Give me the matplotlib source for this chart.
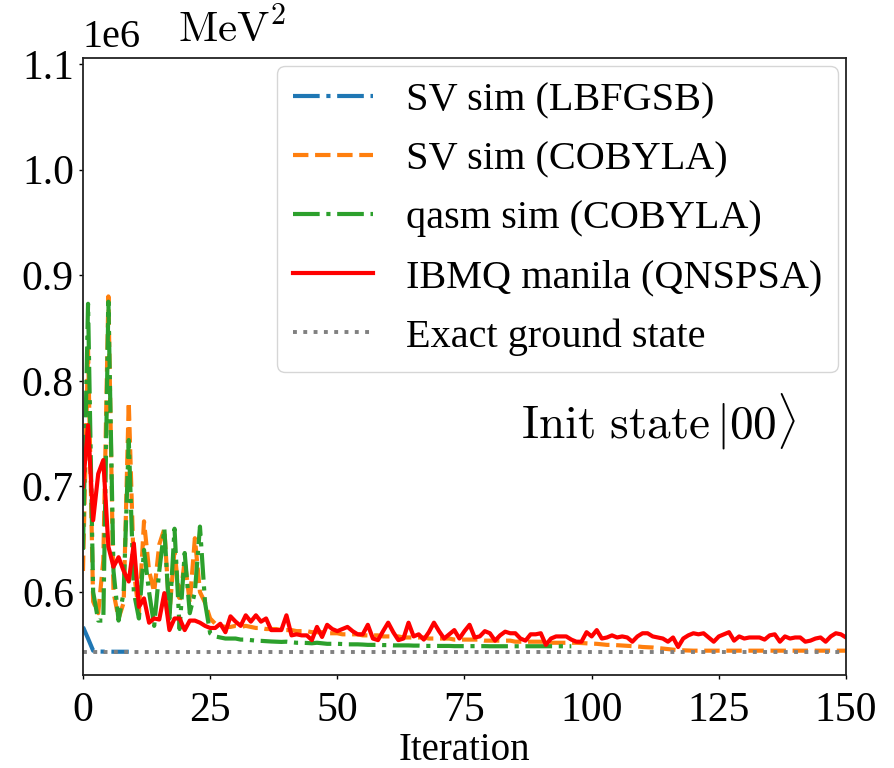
import matplotlib
matplotlib.use("Agg")
import matplotlib.pyplot as plt
import matplotlib.transforms as mtransforms
import numpy as np

plt.rcParams['font.family'] = ['Liberation Serif', 'DejaVu Serif']
plt.rcParams['mathtext.fontset'] = 'cm'

# ---------------- data (energies in MeV^2) ----------------
lbfgsb_vals = [0.567e6, 0.556e6, 0.5445e6, 0.5437e6, 0.5436e6, 0.5436e6, 0.5435e6, 0.5435e6, 0.5435e6, 0.5435e6]

sv_cobyla_vals = [
    0.620, 0.830, 0.591, 0.580, 0.630, 0.880, 0.600, 0.575, 0.590, 0.780,
    0.620, 0.580, 0.667, 0.620, 0.600, 0.645, 0.660, 0.580, 0.640, 0.590,
    0.630, 0.590, 0.651, 0.600, 0.590, 0.575, 0.570, 0.568, 0.567, 0.567,
    0.568, 0.567, 0.568, 0.567, 0.566, 0.566, 0.565, 0.565, 0.565, 0.564,
    0.564, 0.564, 0.563, 0.563, 0.563, 0.562, 0.562, 0.562, 0.561, 0.561,
    0.561, 0.560, 0.560, 0.560, 0.560, 0.559, 0.559, 0.559, 0.559, 0.558,
    0.558, 0.558, 0.558, 0.557, 0.557, 0.557, 0.557, 0.557, 0.556, 0.556,
    0.556, 0.556, 0.556, 0.555, 0.555, 0.555, 0.555, 0.555, 0.555, 0.554,
    0.554, 0.554, 0.554, 0.554, 0.554, 0.553, 0.553, 0.553, 0.553, 0.553,
    0.553, 0.553, 0.552, 0.552, 0.552, 0.552, 0.552, 0.552, 0.5517, 0.5515,
    0.5512, 0.551, 0.5505, 0.550, 0.550, 0.5497, 0.5495, 0.549, 0.5488, 0.5485,
    0.548, 0.5478, 0.5475, 0.547, 0.5465, 0.546, 0.5455, 0.545, 0.5448, 0.5446,
    0.5445, 0.5445, 0.5445, 0.5445, 0.5445, 0.5445, 0.5445, 0.5445, 0.5445, 0.5445,
    0.5445, 0.5445, 0.5445, 0.5445, 0.5445, 0.5445, 0.5445, 0.5445, 0.5445, 0.5445,
    0.5445, 0.5445, 0.5445, 0.5445, 0.5445, 0.5445, 0.5445, 0.5445, 0.5445, 0.5445,
    0.5445,
]

qasm_cobyla_vals = [
    0.640, 0.873, 0.600, 0.573, 0.573, 0.875, 0.620, 0.573, 0.600, 0.744,
    0.600, 0.575, 0.640, 0.600, 0.568, 0.620, 0.660, 0.575, 0.660, 0.565,
    0.637, 0.580, 0.600, 0.662, 0.590, 0.561, 0.558, 0.557, 0.556, 0.556,
    0.556, 0.555, 0.555, 0.5545, 0.554, 0.5538, 0.5535, 0.5532, 0.553, 0.5528,
    0.553, 0.5525, 0.552, 0.552, 0.5518, 0.5515, 0.552, 0.5515, 0.551, 0.551,
    0.551, 0.5508, 0.5505, 0.5505, 0.5505, 0.5503, 0.550, 0.550, 0.550, 0.5498,
    0.5498, 0.5495, 0.5495, 0.5495, 0.5495, 0.5493, 0.5493, 0.549, 0.549, 0.549,
    0.549, 0.549, 0.549, 0.5488, 0.5488, 0.5488, 0.5488, 0.5488, 0.5488, 0.5488,
    0.5487, 0.5487, 0.5487, 0.5487, 0.5487, 0.5487, 0.5487, 0.5487, 0.5487, 0.5487,
    0.5487, 0.5487, 0.5487, 0.5487, 0.5487, 0.5487, 0.5487,
]

qnspsa_vals = [
    0.700, 0.758, 0.668, 0.712, 0.725, 0.643, 0.624, 0.633, 0.620, 0.610,
    0.646, 0.586, 0.594, 0.571, 0.575, 0.574, 0.599, 0.564, 0.575, 0.575,
    0.564, 0.573, 0.573, 0.571, 0.568, 0.566, 0.566, 0.570, 0.562, 0.577,
    0.572, 0.568, 0.578, 0.572, 0.578, 0.572, 0.575, 0.564, 0.564, 0.564,
    0.578, 0.559, 0.560, 0.559, 0.559, 0.5545, 0.567, 0.5575, 0.569, 0.565,
    0.563, 0.565, 0.567, 0.563, 0.560, 0.560, 0.569, 0.556, 0.5545, 0.563,
    0.571, 0.562, 0.5545, 0.556, 0.571, 0.558, 0.560, 0.555, 0.562, 0.571,
    0.563, 0.556, 0.560, 0.564, 0.556, 0.563, 0.569, 0.557, 0.558, 0.563,
    0.561, 0.554, 0.559, 0.5625, 0.561, 0.561, 0.556, 0.554, 0.560, 0.560,
    0.561, 0.550, 0.556, 0.558, 0.558, 0.558, 0.555, 0.553, 0.553, 0.562,
    0.558, 0.564, 0.556, 0.557, 0.559, 0.557, 0.558, 0.557, 0.553, 0.558,
    0.561, 0.561, 0.558, 0.557, 0.556, 0.553, 0.557, 0.548, 0.556, 0.559,
    0.561, 0.560, 0.561, 0.557, 0.553, 0.558, 0.560, 0.562, 0.554, 0.558,
    0.556, 0.557, 0.557, 0.557, 0.555, 0.559, 0.560, 0.553, 0.558, 0.556,
    0.557, 0.557, 0.553, 0.554, 0.556, 0.557, 0.553, 0.558, 0.561, 0.560,
    0.557,
]

exact_ground_state = 0.5435e6

labels = ["SV sim (LBFGSB)", "SV sim (COBYLA)", "qasm sim (COBYLA)",
          "IBMQ manila (QNSPSA)", "Exact ground state"]

# ---------------- plot ----------------
fig = plt.figure(figsize=(8.94, 7.68), dpi=100)
ax = fig.add_axes([0.0928, 0.121, 0.8535, 0.8034])

ax.plot(np.arange(len(lbfgsb_vals)), lbfgsb_vals, color='#1f77b4', ls='-.', lw=3, label=labels[0])
ax.plot(np.arange(len(sv_cobyla_vals)), np.array(sv_cobyla_vals) * 1e6, color='#ff7f0e', ls='--', lw=3, label=labels[1])
ax.plot(np.arange(len(qasm_cobyla_vals)), np.array(qasm_cobyla_vals) * 1e6, color='#2ca02c', ls='-.', lw=3, label=labels[2])
ax.plot(np.arange(len(qnspsa_vals)), np.array(qnspsa_vals) * 1e6, color='red', ls='-', lw=3, label=labels[3])
ax.axhline(exact_ground_state, color='gray', ls=':', lw=2.8, label=labels[4])

ax.set_xlim(0, 150)
ax.set_ylim(0.5214e6, 1.1057e6)
ax.set_xticks([0, 25, 50, 75, 100, 125, 150])
ax.set_yticks([0.6e6, 0.7e6, 0.8e6, 0.9e6, 1.0e6, 1.1e6])
ax.tick_params(labelsize=30, length=3, width=1)
ax.tick_params(axis='x', pad=8.5)
off = ax.yaxis.get_offset_text()
off.set_fontsize(29)
off.set_transform(off.get_transform() + mtransforms.ScaledTranslation(0, 5 / 72, fig.dpi_scale_trans))
ax.set_xlabel("Iteration", fontsize=28, labelpad=2)
for s in ax.spines.values():
    s.set_linewidth(1.3)
    s.set_color('#222222')

ax.text(0.195, 1.012, r'$\mathrm{MeV}^2$', transform=ax.transAxes,
        ha='center', va='bottom', fontsize=31)
ax.text(0.754, 0.41, r'$\mathrm{Init\ state}\,|00\rangle$', transform=ax.transAxes,
        ha='center', va='center', fontsize=34)

ax.legend(loc='upper right', fontsize=29, borderaxespad=0.2, labelspacing=0.54,
          handlelength=2.0, handletextpad=0.8)

fig.savefig("out.png", dpi=100)
